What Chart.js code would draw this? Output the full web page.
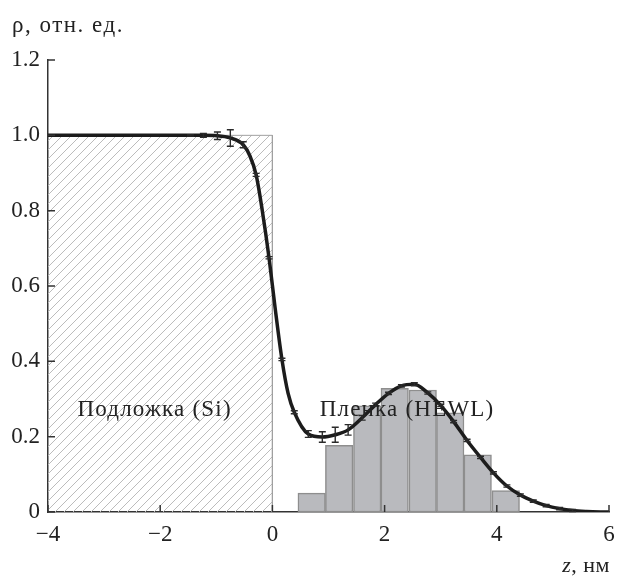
<!DOCTYPE html>
<html>
<head>
<meta charset="utf-8">
<script src="https://cdn.jsdelivr.net/npm/chart.js@4/dist/chart.umd.min.js"></script>
<style>
  html, body { margin: 0; padding: 0; background: #fff; }
  canvas { display: block; }
</style>
</head>
<body>
<canvas id="chart" width="618" height="577"></canvas>
<script>
// Профіль густини: підкладка, гістограма плівки, крива та точки з похибками
const substrateZ = [-4, 0, 0];
const substrateRho = [1.0, 1.0, 0];

const barZ = [0.70, 1.19, 1.69, 2.18, 2.68, 3.17, 3.66, 4.16];
const barRho = [0.050, 0.177, 0.282, 0.328, 0.324, 0.263, 0.152, 0.057];

const curveZ = [-4, -2, -1.46, -1.23, -0.98, -0.75, -0.52, -0.4, -0.29, -0.18, -0.06, 0.05, 0.17, 0.28, 0.39, 0.64, 0.89, 1.12, 1.35, 1.6, 1.84, 2.07, 2.3, 2.53, 2.77, 3.0, 3.23, 3.47, 3.71, 3.94, 4.18, 4.42, 4.65, 4.88, 5.12, 5.35, 5.6, 5.85, 6];
const curveRho = [1.0, 1.0, 1.0, 1.0, 0.999, 0.993, 0.975, 0.945, 0.895, 0.80, 0.675, 0.54, 0.405, 0.315, 0.265, 0.207, 0.199, 0.205, 0.218, 0.25, 0.285, 0.315, 0.335, 0.339, 0.316, 0.283, 0.24, 0.19, 0.145, 0.104, 0.069, 0.045, 0.029, 0.017, 0.009, 0.004, 0.0015, 0.0003, 0];

const pointZ = [-1.46, -1.23, -0.98, -0.75, -0.52, -0.29, -0.06, 0.17, 0.39, 0.64, 0.89, 1.12, 1.35, 1.6, 1.84, 2.07, 2.3, 2.53, 2.77, 3.0, 3.23, 3.47, 3.71, 3.94, 4.18, 4.42, 4.65, 4.88, 5.12, 5.35];
const pointRho = [1.0, 1.0, 0.999, 0.993, 0.975, 0.895, 0.675, 0.405, 0.265, 0.207, 0.199, 0.205, 0.218, 0.25, 0.285, 0.315, 0.335, 0.339, 0.316, 0.283, 0.24, 0.19, 0.145, 0.104, 0.069, 0.045, 0.029, 0.017, 0.009, 0.004];
const pointErr = [0.002, 0.005, 0.01, 0.022, 0.008, 0.004, 0.003, 0.003, 0.004, 0.009, 0.014, 0.02, 0.014, 0.006, 0.004, 0.003, 0.003, 0.004, 0.003, 0.003, 0.003, 0.003, 0.003, 0.003, 0.003, 0.003, 0.003, 0.003, 0.003, 0.003];

const xTicks = [-4, -2, 0, 2, 4, 6];
const yTicks = [0, 0.2, 0.4, 0.6, 0.8, 1.0, 1.2];

const labels = [
    { text: 'Подложка (Si)', z: -2.1, rho: 0.27 },
    { text: 'Пленка (HEWL)', z: 2.4, rho: 0.27 }
];

const serif = '"Liberation Serif", "DejaVu Serif", serif';

// Штрихування для підкладки
function makeHatch() {
    const c = document.createElement('canvas');
    c.width = 9; c.height = 9;
    const g = c.getContext('2d');
    g.strokeStyle = '#bcbcbc';
    g.lineWidth = 1;
    g.beginPath();
    g.moveTo(0, 9); g.lineTo(9, 0);
    g.moveTo(-1, 1); g.lineTo(1, -1);
    g.moveTo(8, 10); g.lineTo(10, 8);
    g.stroke();
    return g.createPattern(c, 'repeat');
}

const toXY = (xs, ys) => xs.map((v, i) => ({ x: v, y: ys[i] }));

// Похибки, внутрішні риски та підписи
const extrasPlugin = {
    id: 'extras',
    afterDatasetsDraw(chart) {
        const { ctx, scales: { x, y } } = chart;
        ctx.save();
        ctx.strokeStyle = '#2a2a2a';
        ctx.lineWidth = 1.4;
        pointZ.forEach((z, i) => {
            const px = x.getPixelForValue(z);
            const y1 = y.getPixelForValue(pointRho[i] + pointErr[i]);
            const y2 = y.getPixelForValue(pointRho[i] - pointErr[i]);
            ctx.beginPath();
            ctx.moveTo(px, y1); ctx.lineTo(px, y2);
            ctx.moveTo(px - 3.5, y1); ctx.lineTo(px + 3.5, y1);
            ctx.moveTo(px - 3.5, y2); ctx.lineTo(px + 3.5, y2);
            ctx.stroke();
        });
        ctx.restore();
    },
    afterDraw(chart) {
        const { ctx, chartArea, scales: { x, y } } = chart;
        ctx.save();
        ctx.strokeStyle = '#333';
        ctx.lineWidth = 1.5;
        ctx.beginPath();
        xTicks.forEach(v => {
            const px = x.getPixelForValue(v);
            ctx.moveTo(px, chartArea.bottom); ctx.lineTo(px, chartArea.bottom - 7);
        });
        yTicks.forEach(v => {
            const py = y.getPixelForValue(v);
            ctx.moveTo(chartArea.left, py); ctx.lineTo(chartArea.left + 7, py);
        });
        ctx.stroke();

        ctx.fillStyle = '#222';
        ctx.font = '23px ' + serif;
        ctx.letterSpacing = '1.2px';
        ctx.textBaseline = 'middle';
        ctx.textAlign = 'center';
        labels.forEach(l => {
            ctx.fillText(l.text, x.getPixelForValue(l.z), y.getPixelForValue(l.rho));
        });

        ctx.textBaseline = 'alphabetic';
        ctx.textAlign = 'left';
        ctx.font = '23px ' + serif;
        ctx.letterSpacing = '1.5px';
        ctx.fillText('ρ, отн. ед.', 12, 32);

        ctx.letterSpacing = '0.5px';
        ctx.textAlign = 'right';
        ctx.font = '22px ' + serif;
        const unit = ', нм';
        const uw = ctx.measureText(unit).width;
        ctx.fillText(unit, 610, 572);
        ctx.font = 'italic 22px ' + serif;
        ctx.fillText('z', 610 - uw, 572);
        ctx.restore();
    }
};

new Chart(document.getElementById('chart'), {
    type: 'scatter',
    data: {
        datasets: [
            {
                type: 'line',
                data: toXY(curveZ, curveRho),
                borderColor: '#1c1c1c',
                borderWidth: 3.5,
                pointRadius: 0,
                cubicInterpolationMode: 'monotone',
                fill: false,
                order: 0
            },
            {
                type: 'bar',
                data: toXY(barZ, barRho),
                backgroundColor: '#b9babe',
                borderColor: '#8e8e8e',
                borderWidth: 1.5,
                borderSkipped: false,
                barPercentage: 1,
                categoryPercentage: 1,
                order: 1
            },
            {
                type: 'line',
                data: toXY(substrateZ, substrateRho),
                borderColor: '#a0a0a0',
                borderWidth: 1,
                pointRadius: 0,
                tension: 0,
                fill: 'origin',
                backgroundColor: makeHatch(),
                order: 2
            }
        ]
    },
    options: {
        responsive: false,
        animation: false,
        devicePixelRatio: 1,
        layout: { padding: { top: 60, right: 9, left: 0, bottom: 0 } },
        plugins: { legend: { display: false }, tooltip: { enabled: false } },
        scales: {
            x: {
                type: 'linear',
                min: -4, max: 6,
                offset: false,
                grid: { display: false, drawTicks: false },
                border: { display: true, color: '#333', width: 1.5 },
                afterBuildTicks: s => { s.ticks = xTicks.map(v => ({ value: v })); },
                afterFit: s => { s.height = 65; s.paddingLeft = 0; s.paddingRight = 0; },
                ticks: {
                    padding: 9,
                    color: '#222',
                    font: { family: serif, size: 23 },
                    callback: v => String(v).replace('-', '\u2212')
                }
            },
            y: {
                min: 0, max: 1.2,
                grid: { display: false, drawTicks: false },
                border: { display: true, color: '#333', width: 1.5 },
                afterBuildTicks: s => { s.ticks = yTicks.map(v => ({ value: v })); },
                afterFit: s => { s.width = 48; },
                ticks: {
                    padding: 8,
                    color: '#222',
                    font: { family: serif, size: 23 },
                    callback: v => v === 0 ? '0' : v.toFixed(1)
                }
            }
        }
    },
    plugins: [extrasPlugin]
});
</script>
</body>
</html>
